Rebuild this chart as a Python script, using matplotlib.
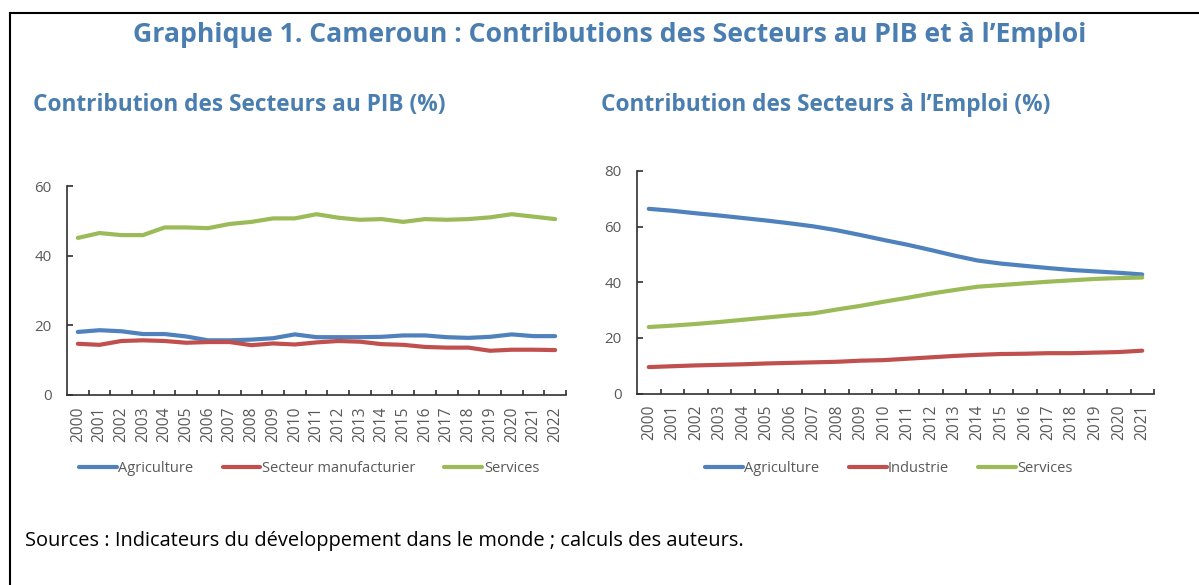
import matplotlib
matplotlib.use("Agg")
import matplotlib.pyplot as plt
from matplotlib.lines import Line2D
from matplotlib.ticker import FixedLocator

years_pib = [str(y) for y in range(2000, 2023)]
pib_agriculture = [18.1, 18.6, 18.3, 17.5, 17.5, 16.8, 15.7, 15.7, 15.9, 16.3, 17.4, 16.6,
                   16.6, 16.6, 16.7, 17.1, 17.1, 16.6, 16.4, 16.7, 17.4, 16.9, 16.9]
pib_manufacturier = [14.7, 14.4, 15.5, 15.7, 15.5, 15.0, 15.2, 15.2, 14.3, 14.8, 14.5, 15.1,
                     15.5, 15.3, 14.6, 14.4, 13.8, 13.6, 13.6, 12.7, 13.0, 13.0, 12.9]
pib_services = [45.1, 46.5, 45.9, 45.9, 48.1, 48.1, 47.9, 49.1, 49.7, 50.7, 50.7, 51.9,
                50.9, 50.3, 50.5, 49.7, 50.5, 50.3, 50.5, 51.0, 51.9, 51.2, 50.5]

years_emp = [str(y) for y in range(2000, 2022)]
emp_agriculture = [66.4, 65.7, 64.8, 64.0, 63.1, 62.2, 61.2, 60.1, 58.7, 57.0, 55.2, 53.5,
                   51.6, 49.6, 47.8, 46.7, 45.9, 45.1, 44.4, 43.9, 43.4, 42.8]
emp_industrie = [9.5, 9.8, 10.1, 10.3, 10.5, 10.8, 11.0, 11.2, 11.4, 11.8, 12.0, 12.5,
                 13.0, 13.5, 13.9, 14.2, 14.3, 14.5, 14.5, 14.7, 14.9, 15.4]
emp_services = [23.9, 24.4, 25.0, 25.7, 26.5, 27.3, 28.1, 28.8, 30.2, 31.5, 33.0, 34.4,
                35.9, 37.2, 38.4, 39.0, 39.6, 40.2, 40.7, 41.2, 41.5, 41.7]

BLUE = "#4F81BD"
RED = "#C0504D"
GREEN = "#9BBB59"
TITLE_C = "#4A7EB0"
GREY = "#595959"
AXC = "#303030"
W, H = 1199, 585

fig = plt.figure(figsize=(W / 100, H / 100), dpi=100)

# frame
fig.add_artist(Line2D([10/W, 1.0], [1-13/H, 1-13/H], transform=fig.transFigure, color="black", lw=1.5))
fig.add_artist(Line2D([10/W, 10/W], [0, 1-13/H], transform=fig.transFigure, color="black", lw=1.5))

fig.text(610/W, 1-35/H, "Graphique 1. Cameroun : Contributions des Secteurs au PIB et à l\u2019Emploi",
         ha="center", va="center", fontsize=19.2, fontweight="bold", color=TITLE_C, family="Open Sans")
fig.text(33/W, 1-105/H, "Contribution des Secteurs au PIB (%)", ha="left", va="center",
         fontsize=16.3, fontweight="bold", color=TITLE_C, family="Open Sans")
fig.text(601/W, 1-105/H, "Contribution des Secteurs à l\u2019Emploi (%)", ha="left", va="center",
         fontsize=16.3, fontweight="bold", color=TITLE_C, family="Open Sans")
fig.text(25/W, 1-541/H, "Sources : Indicateurs du développement dans le monde ; calculs des auteurs.",
         ha="left", va="center", fontsize=14.45, color="black", family="Open Sans")


def setup(ax, cats, ymax, step):
    n = len(cats)
    x = list(range(n))
    ax.set_xlim(-0.5, n - 0.5)
    ax.set_ylim(0, ymax)
    ax.set_yticks(list(range(0, ymax + 1, step)))
    ax.xaxis.set_major_locator(FixedLocator(x))
    ax.set_xticklabels(cats, rotation=90, fontsize=11.2, color=GREY, family="Open Sans")
    ax.xaxis.set_minor_locator(FixedLocator([i + 0.5 for i in range(n)]))
    ax.tick_params(axis="x", which="major", length=0, pad=8)
    ax.tick_params(axis="x", which="minor", length=3.5, width=1.2, color=AXC, direction="in")
    ax.tick_params(axis="y", length=4, width=1.2, color=AXC, direction="in", labelsize=10.8,
                   labelcolor=GREY, pad=11)
    for lab in ax.get_yticklabels():
        lab.set_family("Open Sans")
    for s in ["top", "right"]:
        ax.spines[s].set_visible(False)
    for s in ["left", "bottom"]:
        ax.spines[s].set_color(AXC)
        ax.spines[s].set_linewidth(1.2)
    return x


ax1 = fig.add_axes([67/W, 1-395/H, (566-67)/W, (395-186)/H])
x1 = setup(ax1, years_pib, 60, 20)
l1, = ax1.plot(x1, pib_agriculture, color=BLUE, lw=3, label="Agriculture", solid_capstyle="round")
l2, = ax1.plot(x1, pib_manufacturier, color=RED, lw=3, label="Secteur manufacturier", solid_capstyle="round")
l3, = ax1.plot(x1, pib_services, color=GREEN, lw=3, label="Services", solid_capstyle="round")

ax2 = fig.add_axes([637/W, 1-393.5/H, (1154-637)/W, (393.5-171)/H])
x2 = setup(ax2, years_emp, 80, 20)
r1, = ax2.plot(x2, emp_agriculture, color=BLUE, lw=3, label="Agriculture", solid_capstyle="round")
r2, = ax2.plot(x2, emp_industrie, color=RED, lw=3, label="Industrie", solid_capstyle="round")
r3, = ax2.plot(x2, emp_services, color=GREEN, lw=3, label="Services", solid_capstyle="round")

leg_kw = dict(ncol=3, frameon=False, handlelength=2.6, handletextpad=0.1, columnspacing=2.0,
              loc="center", prop={"family": "Open Sans", "size": 10.5}, labelcolor=GREY)
fig.legend(handles=[l1, l2, l3], bbox_to_anchor=(309/W, 1-469/H), **leg_kw)
fig.legend(handles=[r1, r2, r3], bbox_to_anchor=(889/W, 1-469/H), **leg_kw)

fig.savefig("out.png", dpi=100)
